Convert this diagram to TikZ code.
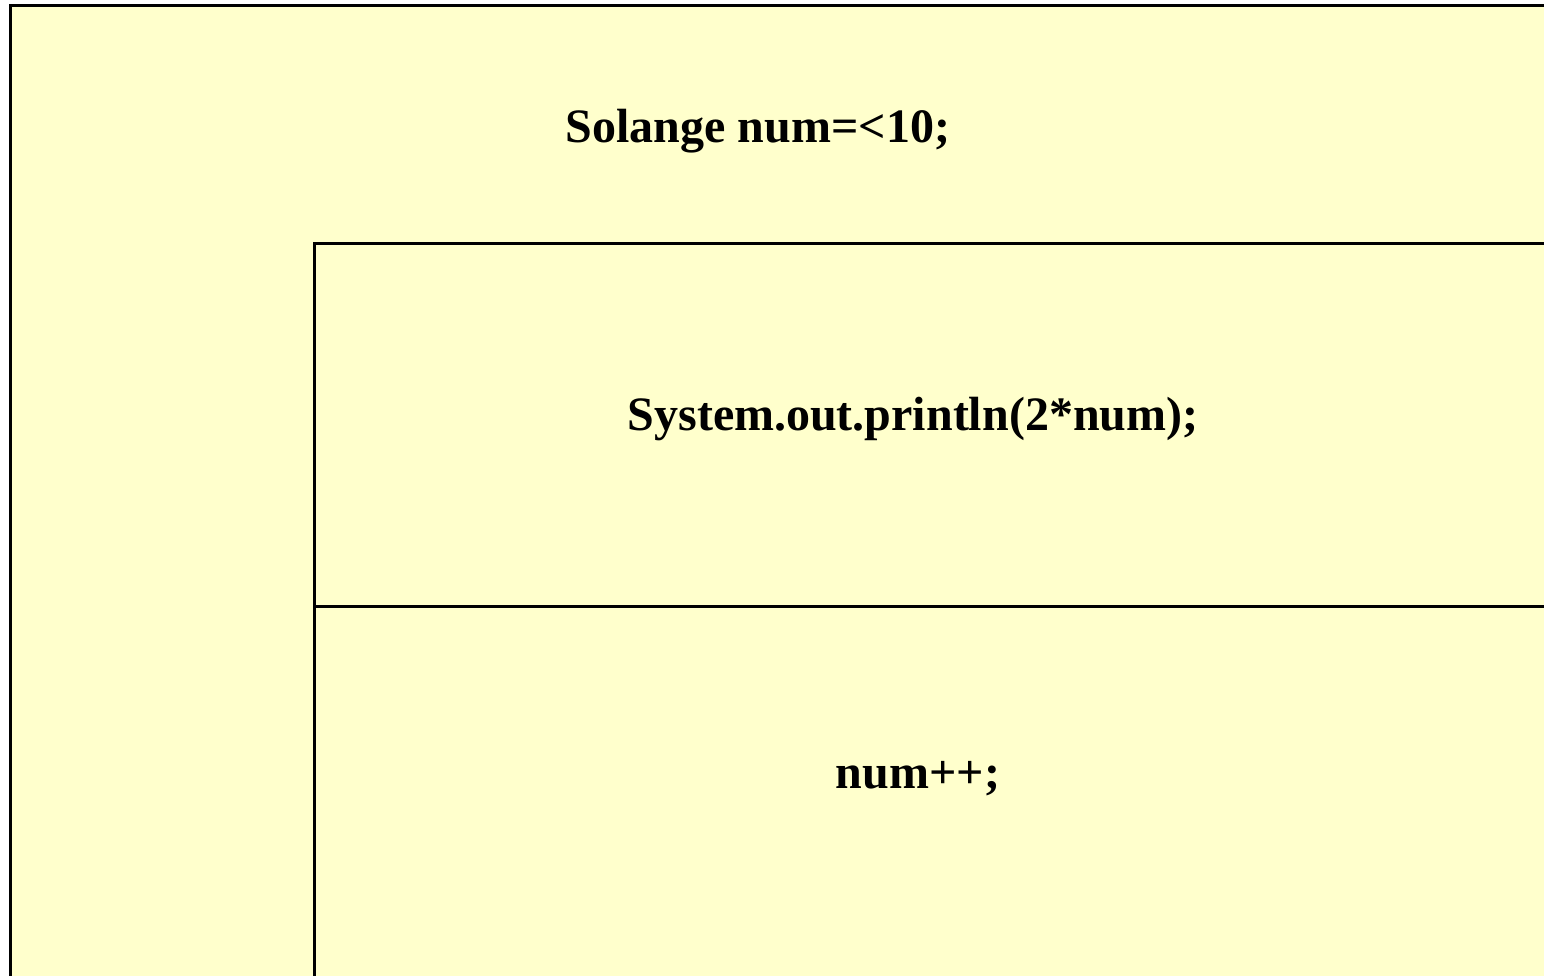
\documentclass[tikz,border=0pt]{standalone}
\usepackage{fontspec}
\setmainfont{Liberation Serif}
\definecolor{nsfill}{HTML}{FFFFCC}
\tikzset{
  nsline/.style={draw=black, line width=3pt},
  nstext/.style={font=\fontsize{48}{58}\selectfont\bfseries, inner sep=0pt, anchor=base},
}
\begin{document}
\begin{tikzpicture}[x=1pt,y=-1pt]
\useasboundingbox (0,0) rectangle (1544,975);
\clip (0,0) rectangle (1544,975);
\fill[white] (0,0) rectangle (1544,975);
% outer loop box
\filldraw[nsline, fill=nsfill] (10.5,5.5) rectangle (1600,1020);
% inner body box
\draw[nsline] (314.5,1020) -- (314.5,243.8) -- (1600,243.8);
\draw[nsline] (316,606.5) -- (1600,606.5);
% texts
\node[nstext] (cond) at (758,142) {Solange num=<10;};
\node[nstext] (print) at (913,430) {System.out.println(2*num);};
\node[nstext] (incr) at (918,788) {num++;};
\end{tikzpicture}
\end{document}
